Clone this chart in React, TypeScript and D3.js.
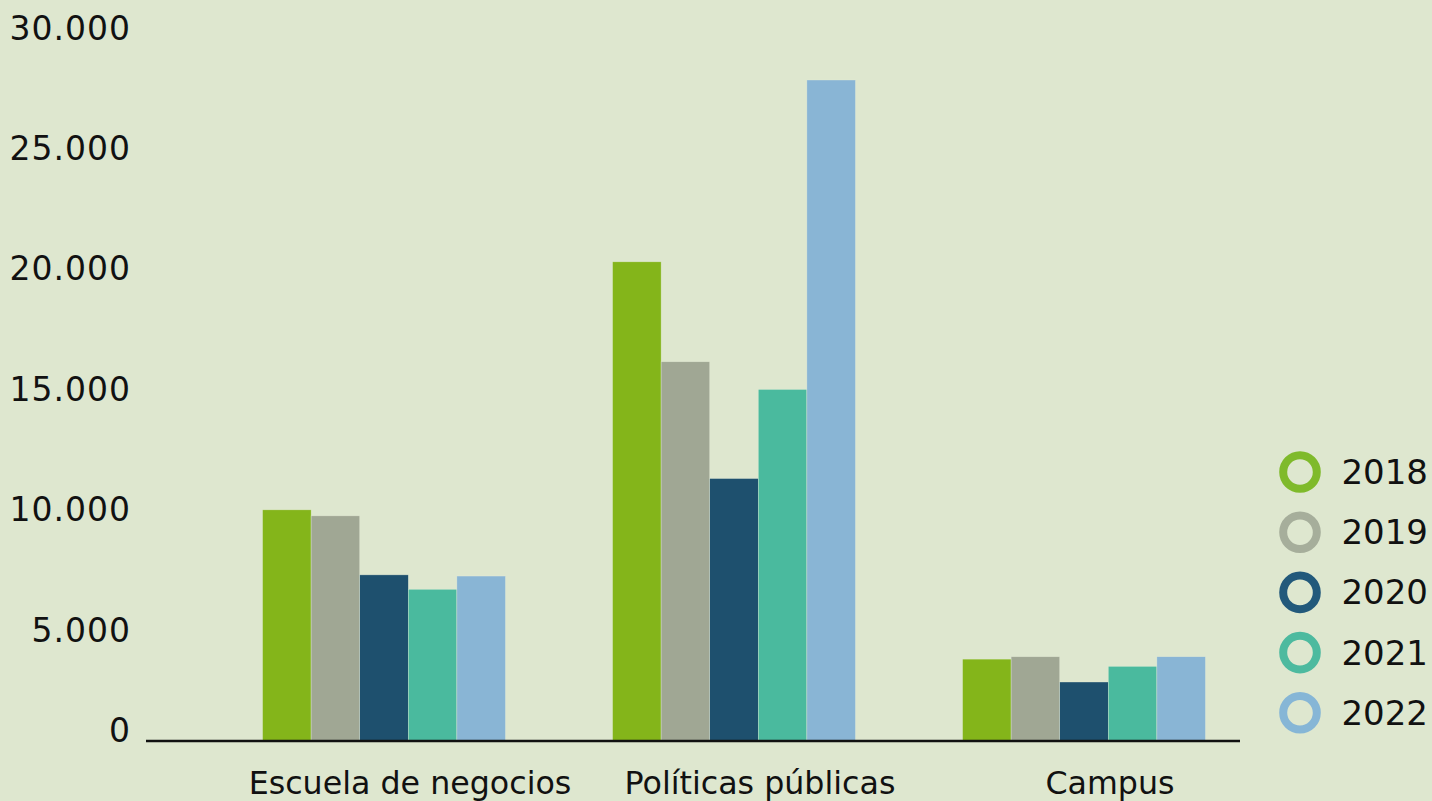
import React, { useEffect, useRef } from 'react';
import * as d3 from 'd3';

// categories and series
const categories = ['Escuela de negocios', 'Políticas públicas', 'Campus'];
const years = ['2018', '2019', '2020', '2021', '2022'];
const values2018 = [9600, 19900, 3400];
const values2019 = [9350, 15750, 3500];
const values2020 = [6900, 10900, 2450];
const values2021 = [6300, 14600, 3100];
const values2022 = [6850, 27450, 3500];
const yTicks = [0, 5000, 10000, 15000, 20000, 25000, 30000];
const barColors = ['#84b51a', '#a0a794', '#1e506e', '#4aba9e', '#89b5d5'];
const ringColors = ['#7fba2b', '#a6ae9b', '#22597b', '#4dba9f', '#86b6d6'];

const W = 1432;
const H = 801;
const FONT = '"DejaVu Sans", sans-serif';

const App: React.FC = () => {
    const ref = useRef<SVGSVGElement>(null);

    useEffect(() => {
        const svg = d3.select(ref.current);
        svg.selectAll('*').remove();
        svg.attr('width', W).attr('height', H);

        svg.append('rect').attr('width', W).attr('height', H).attr('fill', '#dee7cf');

        const series = [values2018, values2019, values2020, values2021, values2022];

        // outer band per category, inner band per year
        const x0 = d3
            .scaleBand()
            .domain(categories)
            .range([209, 1259])
            .paddingInner(0.306)
            .paddingOuter(0.153);

        const x1 = d3.scaleBand().domain(years).range([0, x0.bandwidth()]).padding(0);

        const y = d3.scaleLinear().domain([0, 30000]).range([741, 18.6]);

        // y tick labels, sitting a little under their value; the 0 sits above the axis
        const fmt = (v: number) => (v === 0 ? '0' : d3.format(',')(v).replace(/,/g, '.'));
        svg
            .append('g')
            .selectAll('text')
            .data(yTicks)
            .enter()
            .append('text')
            .attr('x', 131)
            .attr('y', (d) => (d === 0 ? y(d) + 1 : y(d) + 21))
            .attr('text-anchor', 'end')
            .style('font-family', FONT)
            .style('font-size', '33px')
            .style('letter-spacing', '1px')
            .attr('fill', '#111')
            .text(fmt);

        // bars
        categories.forEach((cat, ci) => {
            const g = svg.append('g').attr('transform', `translate(${x0(cat)},0)`);
            g.selectAll('rect')
                .data(years.map((yr, si) => ({ yr, v: series[si][ci], si })))
                .enter()
                .append('rect')
                .attr('x', (d) => x1(d.yr) ?? 0)
                .attr('y', (d) => y(d.v))
                .attr('width', x1.bandwidth())
                .attr('height', (d) => y(0) - y(d.v))
                .attr('fill', (d) => barColors[d.si])
                .attr('stroke', '#e6eedb')
                .attr('stroke-width', 0.6)
                .attr('stroke-opacity', 0.6);
        });

        // baseline
        svg
            .append('line')
            .attr('x1', 146)
            .attr('x2', 1240)
            .attr('y1', y(0))
            .attr('y2', y(0))
            .attr('stroke', '#111')
            .attr('stroke-width', 2.5);

        // category labels
        svg
            .append('g')
            .selectAll('text')
            .data(categories)
            .enter()
            .append('text')
            .attr('x', (d) => (x0(d) ?? 0) + x0.bandwidth() / 2 + 26)
            .attr('y', 794)
            .attr('text-anchor', 'middle')
            .style('font-family', FONT)
            .style('font-size', '31.7px')
            .attr('fill', '#111')
            .text((d) => d);

        // legend
        const legend = svg
            .append('g')
            .selectAll('g')
            .data(years)
            .enter()
            .append('g')
            .attr('transform', (_, i) => `translate(0,${472 + i * 60.2})`);

        legend
            .append('circle')
            .attr('cx', 1300)
            .attr('cy', 0)
            .attr('r', 16.8)
            .attr('fill', 'none')
            .attr('stroke', (_, i) => ringColors[i])
            .attr('stroke-width', 8);

        legend
            .append('text')
            .attr('x', 1428)
            .attr('y', 12)
            .attr('text-anchor', 'end')
            .style('font-family', FONT)
            .style('font-size', '34px')
            .attr('fill', '#111')
            .text((d) => d);
    }, []);

    return <svg ref={ref} style={{ position: 'absolute', left: 0, top: 0 }}></svg>;
};

export default App;
